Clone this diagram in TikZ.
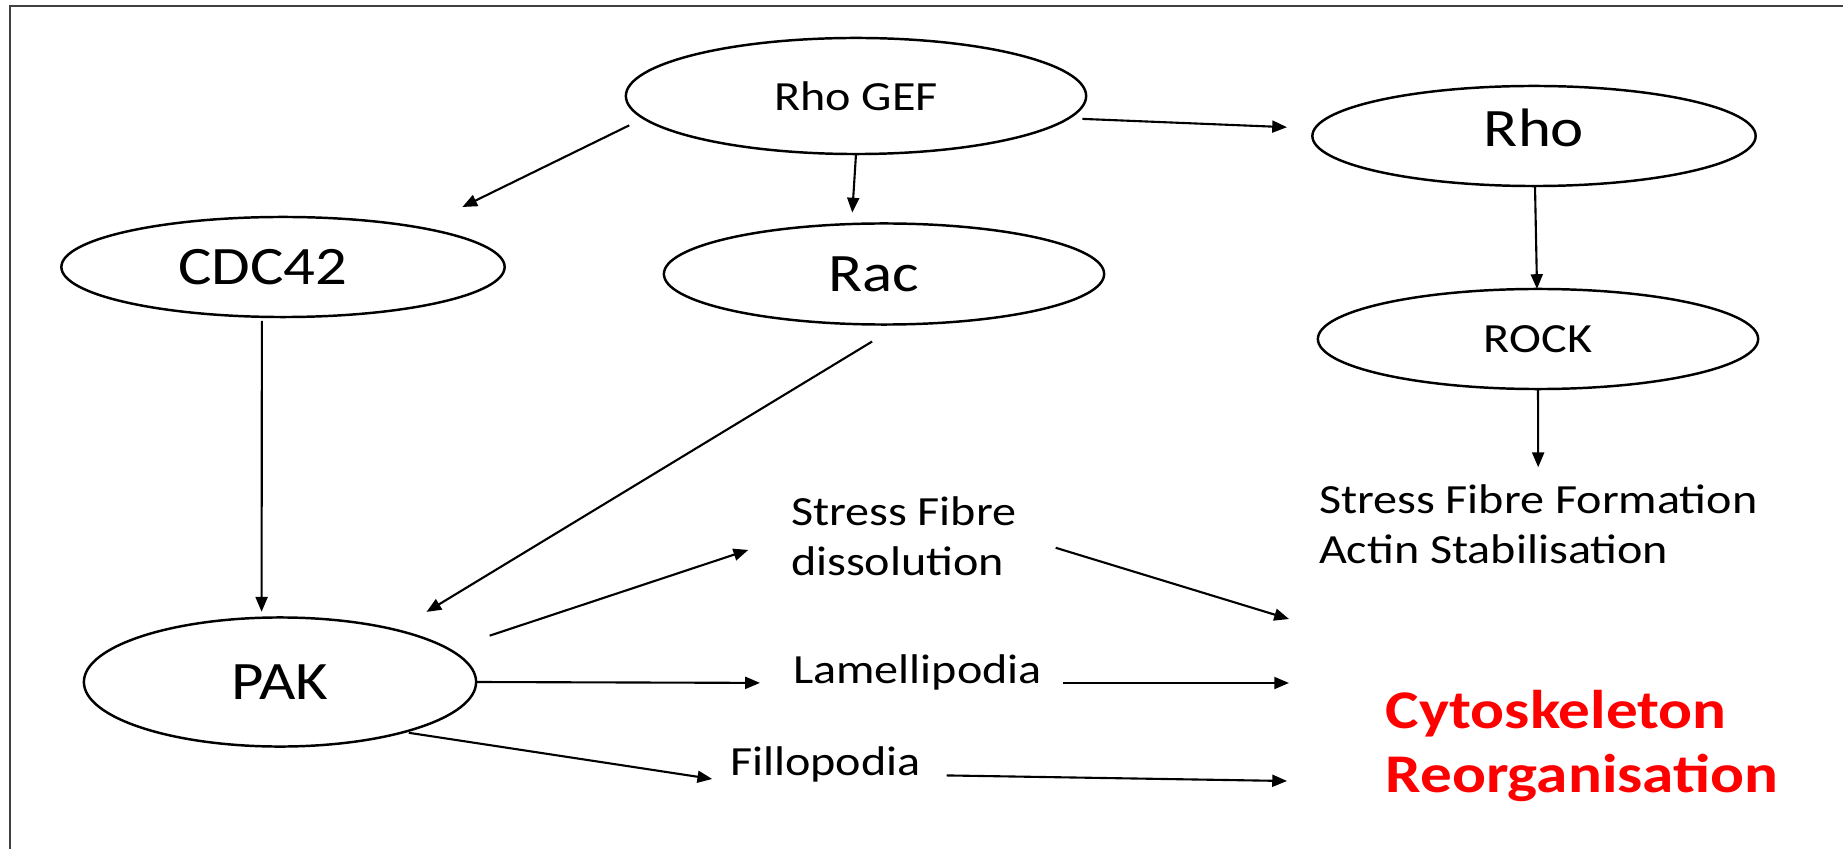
\documentclass[tikz,border=0pt]{standalone}
\usepackage{fontspec}
\setmainfont{Carlito}[FakeStretch=1.16]
\usetikzlibrary{arrows.meta,shapes.geometric}

\begin{document}
\begin{tikzpicture}[x=0.01cm,y=-0.01cm,
    oval/.style={draw,ellipse,line width=0.7pt,inner sep=0pt,outer sep=0pt},
    big/.style={font=\fontsize{15.4}{18}\selectfont},
    small/.style={font=\fontsize{11.8}{14}\selectfont},
    lbl/.style={inner sep=0pt,outer sep=0pt,align=left,font=\fontsize{11.8}{14.2}\selectfont},
    arr/.style={-{Triangle[length=4.2pt,width=3.4pt]},line width=0.6pt}]
      \useasboundingbox (0,0) rectangle (1843,849);
      \draw [line width=0.6pt,black!75] (1843,6) -- (10,6) -- (10,849);

      \node [oval,small,minimum width=4.60cm,minimum height=1.16cm] (gef) at (856,96) {Rho GEF};
      \node [oval,big,minimum width=4.43cm,minimum height=1.00cm] (rho) at (1534,136) {\raisebox{0.16cm}{Rho}};
      \node [oval,big,minimum width=4.43cm,minimum height=1.00cm] (cdc) at (283,267) {\hspace*{-0.4cm}CDC42};
      \node [oval,big,minimum width=4.40cm,minimum height=1.01cm] (rac) at (884,274) {\hspace*{-0.2cm}Rac};
      \node [oval,small,minimum width=4.40cm,minimum height=1.00cm] (rock) at (1538,339) {ROCK};
      \node [oval,big,minimum width=3.92cm,minimum height=1.29cm] (pak) at (280,682) {PAK};

      \node [lbl,anchor=base west] (sff) at (1319,563) {Stress Fibre Formation\\Actin Stabilisation};
      \node [lbl,anchor=base west] (sfd) at (791,575) {Stress Fibre\\dissolution};
      \node [lbl,anchor=base west] (lam) at (793,683) {Lamellipodia};
      \node [lbl,anchor=base west] (fil) at (730,775) {Fillopodia};
      \node [anchor=base west,inner sep=0pt,align=left,text=red,font=\bfseries\fontsize{15.5}{18.2}\selectfont] (cyto) at (1385,792) {Cytoskeleton\\Reorganisation};

      \coordinate (cy1) at (1289,619);
      \coordinate (cy2) at (1289,683);
      \coordinate (cy3) at (1287,781);

      \draw [arr,shorten <=0.16cm,shorten >=0.47cm] (gef.186) -- (cdc.16);
      \draw [arr,shorten >=0.115cm] (gef.south) -- (rac.123);
      \draw [arr,shorten <=0.14cm,shorten >=0.28cm] (gef.354) -- (rho.178);
      \draw [arr] (rho) -- (rock);
      \draw [arr,shorten >=0.17cm] (rock.south) -- (sff.north);
      \draw [arr,shorten <=0.04cm,shorten >=0.06cm] (cdc.247) -- (pak.106);
      \draw [arr,shorten <=0.33cm,shorten >=0.35cm] (rac.288) -- (pak.24);
      \draw [arr,shorten <=0.43cm,shorten >=0.45cm] (pak.11) -- (sfd.west);
      \draw [arr,shorten >=0.33cm] (pak.east) -- (lam.base west);
      \draw [arr,shorten <=0.05cm,shorten >=0.18cm] (pak.338) -- (fil.south west);
      \draw [arr,shorten <=0.41cm] (sfd.east) -- (cy1);
      \draw [arr,shorten <=0.21cm] (lam.base east) -- (cy2);
      \draw [arr,shorten <=0.26cm] (fil.base east) -- (cy3);
    \end{tikzpicture}
\end{document}
